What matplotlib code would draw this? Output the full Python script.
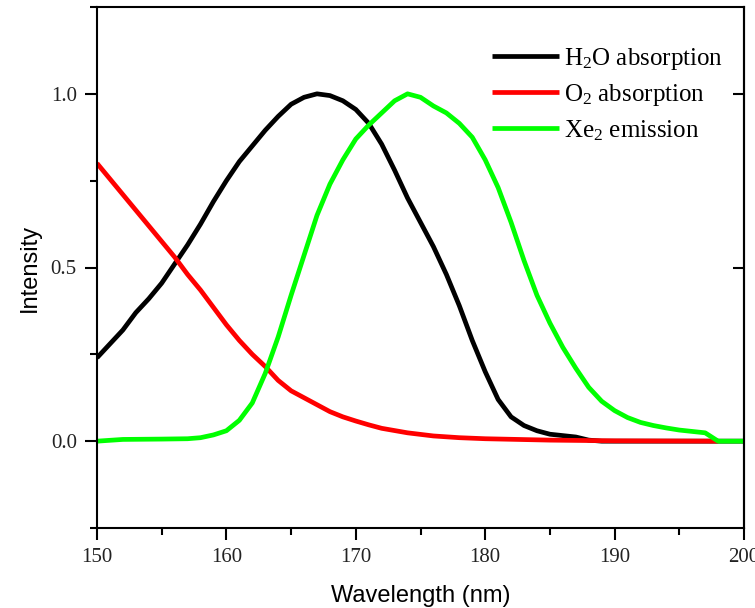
import matplotlib
matplotlib.use("Agg")
import matplotlib.pyplot as plt
from matplotlib.ticker import MultipleLocator, NullFormatter

plt.rcParams["mathtext.fontset"] = "custom"
plt.rcParams["mathtext.rm"] = "Liberation Serif"
plt.rcParams["mathtext.it"] = "Liberation Serif:italic"

# water absorption
h2o_wl = [150, 151, 152, 153, 154, 155, 156, 157, 158, 159, 160, 161, 162, 163,
          164, 165, 166, 167, 168, 169, 170, 171, 172, 173, 174, 175, 176, 177,
          178, 179, 180, 181, 182, 183, 184, 185, 186, 187, 188, 189, 200]
h2o_int = [0.24, 0.28, 0.32, 0.37, 0.41, 0.455, 0.51, 0.565, 0.625, 0.69,
           0.75, 0.805, 0.85, 0.895, 0.935, 0.97, 0.99, 1.0, 0.995, 0.98,
           0.955, 0.915, 0.855, 0.78, 0.70, 0.63, 0.56, 0.48, 0.39, 0.29, 0.20,
           0.12, 0.07, 0.045, 0.03, 0.02, 0.016, 0.012, 0.003, 0.0, 0.0]

# oxygen absorption
o2_wl = [150, 151, 152, 153, 154, 155, 156, 157, 158, 159, 160, 161, 162, 163,
         164, 165, 166, 167, 168, 169, 170, 171, 172, 174, 176, 178, 180, 185,
         190, 198]
o2_int = [0.80, 0.755, 0.71, 0.665, 0.62, 0.575, 0.53, 0.48, 0.435, 0.385,
          0.335, 0.29, 0.25, 0.215, 0.175, 0.145, 0.125, 0.105, 0.085, 0.07,
          0.058, 0.047, 0.037, 0.024, 0.015, 0.01, 0.007, 0.003, 0.001, 0.0]

# Xe2 excimer emission
xe2_wl = [150, 152, 155, 157, 158, 159, 160, 161, 162, 163, 164, 165, 166, 167,
          168, 169, 170, 171, 172, 173, 174, 175, 176, 177, 178, 179, 180, 181,
          182, 183, 184, 185, 186, 187, 188, 189, 190, 191, 192, 193, 194, 195,
          196, 197, 197.5, 198, 200]
xe2_int = [0.0, 0.005, 0.006, 0.007, 0.01, 0.018, 0.03, 0.06, 0.11, 0.195,
           0.30, 0.42, 0.535, 0.65, 0.74, 0.81, 0.87, 0.91, 0.945, 0.98, 1.0,
           0.99, 0.965, 0.945, 0.915, 0.875, 0.81, 0.73, 0.63, 0.52, 0.42,
           0.34, 0.27, 0.21, 0.155, 0.115, 0.088, 0.068, 0.054, 0.045, 0.038,
           0.032, 0.028, 0.024, 0.012, 0.0, 0.0]

fig = plt.figure(figsize=(7.55, 6.08), dpi=100)
ax = fig.add_axes([97 / 755, 1 - 528 / 608, 647 / 755, 521 / 608])

line_kw = dict(lw=3.4, solid_joinstyle="round", solid_capstyle="butt")
ax.plot(h2o_wl, h2o_int, color="black", label=r"H$_2$O absorption", **line_kw)
ax.plot(o2_wl, o2_int, color="#ff0000", label=r"O$_2$ absorption", **line_kw)
ax.plot(xe2_wl, xe2_int, color="#00ff00", label=r"Xe$_2$ emission", **line_kw)

ax.set_xlim(150, 200)
ax.set_ylim(-0.25, 1.25)
ax.xaxis.set_major_locator(MultipleLocator(10))
ax.xaxis.set_minor_locator(MultipleLocator(5))
ax.yaxis.set_major_locator(MultipleLocator(0.5))
ax.yaxis.set_minor_locator(MultipleLocator(0.25))
ax.yaxis.set_major_formatter(lambda v, p: f"{v:.1f}")

for s in ax.spines.values():
    s.set_linewidth(1.5)
ax.tick_params(which="major", direction="out", length=8.5, width=1.5,
               labelsize=15, labelcolor="#222222", pad=6)
ax.tick_params(which="minor", direction="out", length=5, width=1.5)
for lab in ax.get_xticklabels() + ax.get_yticklabels():
    lab.set_family("Liberation Serif")

# inward major ticks on the right spine
sec = ax.secondary_yaxis("right")
sec.yaxis.set_major_locator(MultipleLocator(0.5))
sec.yaxis.set_major_formatter(NullFormatter())
sec.tick_params(direction="in", length=8, width=1.5)
sec.spines["right"].set_linewidth(1.5)

ax.set_xlabel("Wavelength (nm)", family="Liberation Sans", fontsize=17,
              labelpad=13)
ax.set_ylabel("Intensity", family="Liberation Sans", fontsize=17, labelpad=7)

ax.legend(loc="upper left", bbox_to_anchor=(0.61, 0.925), frameon=False,
          borderpad=0, borderaxespad=0, handlelength=2.7, handletextpad=0.2,
          labelspacing=0.4, prop={"family": "Liberation Serif", "size": 18})

fig.savefig("out.png", dpi=100)
